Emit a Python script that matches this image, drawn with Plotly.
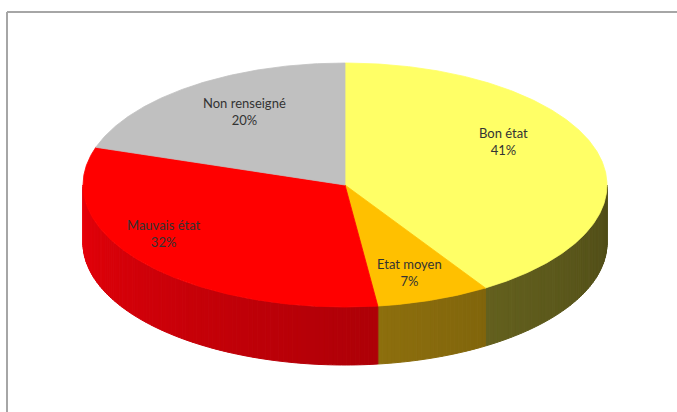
import numpy as np
import plotly.graph_objects as go

# ---- data ----
categories = ["Bon état", "Etat moyen", "Mauvais état", "Non renseigné"]
values = [41, 7, 32, 20]
pct_labels = ["41%", "7%", "32%", "20%"]

# ---- style ----
top_colors = ["#FFFF66", "#FFC000", "#FF0000", "#C0C0C0"]
side_base = [(112, 108, 34), (145, 114, 14), (178, 0, 8), (150, 150, 150)]
label_pos = [(0.605, -0.36), (0.245, 0.72), (-0.69, 0.40), (-0.385, -0.60)]  # in ellipse units

W, H = 677, 412
cx, cy, a, b, depth = 345, 185, 262, 122, 58


def ell(t_deg, dy=0.0):
    t = np.radians(t_deg)
    return cx + a * np.sin(t), cy - b * np.cos(t) + dy


def shade(t_deg):
    return float(np.clip(1 + 0.3 * (t_deg - 180) / 90.0, 0.6, 1.45))


fig = go.Figure()

total = float(sum(values))
bounds = []
acc = 0.0
for v in values:
    t1 = acc / total * 360
    acc += v
    t2 = acc / total * 360
    bounds.append((t1, t2))

# sides (front half only)
for (t1, t2), base in zip(bounds, side_base):
    lo, hi = max(t1, 90), min(t2, 270)
    if hi <= lo:
        continue
    n = max(1, int(np.ceil((hi - lo) / 1.0)))
    edges = np.linspace(lo, hi, n + 1)
    for e1, e2 in zip(edges[:-1], edges[1:]):
        ts = np.linspace(e1, e2, 3)
        xt, yt = ell(ts)
        xb, yb = ell(ts[::-1], depth)
        f = shade((e1 + e2) / 2)
        col = "rgb(%d,%d,%d)" % tuple(min(255, int(c * f)) for c in base)
        fig.add_trace(go.Scatter(
            x=np.concatenate([xt, xb, xt[:1]]), y=np.concatenate([yt, yb, yt[:1]]),
            mode="lines", fill="toself", fillcolor=col,
            line=dict(color=col, width=1), hoverinfo="skip", showlegend=False))

# top faces
for (t1, t2), col, name in zip(bounds, top_colors, categories):
    ts = np.linspace(t1, t2, max(8, int((t2 - t1) * 2)))
    xa, ya = ell(ts)
    fig.add_trace(go.Scatter(
        x=np.concatenate([[cx], xa, [cx]]), y=np.concatenate([[cy], ya, [cy]]),
        mode="lines", fill="toself", fillcolor=col,
        line=dict(color=col, width=0.8), name=name, hoverinfo="name", showlegend=False))

# labels
for name, p, (u, v) in zip(categories, pct_labels, label_pos):
    fig.add_annotation(x=cx + a * u, y=cy + b * v, text=f"{name}<br>{p}",
                       showarrow=False, font=dict(family="Lato", size=13, color="#333333"),
                       xanchor="center", yanchor="middle")

fig.update_layout(
    width=W, height=H, margin=dict(l=0, r=0, t=0, b=0),
    paper_bgcolor="white", plot_bgcolor="white", showlegend=False,
    xaxis=dict(range=[0, W], visible=False, fixedrange=True),
    yaxis=dict(range=[H, 0], visible=False, fixedrange=True),
    shapes=[
        dict(type="line", xref="x", yref="y", x0=7, y0=12, x1=W, y1=12, line=dict(color="#A6A6A6", width=2)),
        dict(type="line", xref="x", yref="y", x0=7, y0=12, x1=7, y1=H, line=dict(color="#A6A6A6", width=2)),
    ],
)

fig.write_html("out.html", config={"displayModeBar": False},
               post_script="document.body.style.margin='0';document.body.style.overflow='hidden';")
